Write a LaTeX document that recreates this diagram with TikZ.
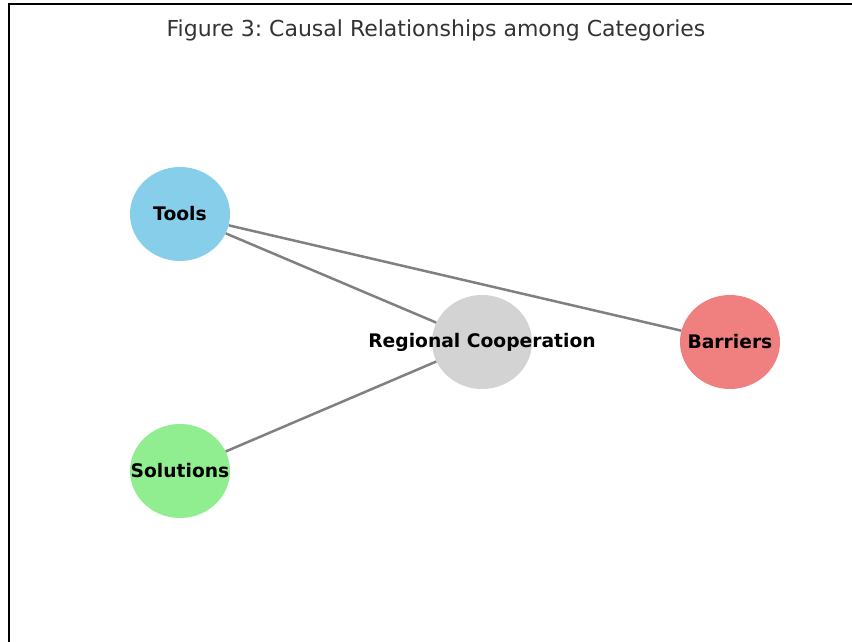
\documentclass[tikz,border=0pt]{standalone}
\usepackage{fontspec}
\setmainfont{DejaVu Sans}
\usetikzlibrary{shapes.geometric}
\frenchspacing
\definecolor{toolsblue}{HTML}{87CEEB}
\definecolor{coopgray}{HTML}{D3D3D3}
\definecolor{barrierred}{HTML}{F08080}
\definecolor{solgreen}{HTML}{90EE90}
\definecolor{edgegray}{HTML}{808080}
\definecolor{titlegray}{HTML}{333333}
\tikzstyle{category}=[ellipse, inner sep=0pt, minimum width=100pt, minimum height=94pt,
    label={[font=\fontsize{18.7}{21}\selectfont\bfseries]center:#1}]
\newcommand{\category}{\node}

\begin{document}
\begin{tikzpicture}[x=1pt, y=-1pt
    ,every edge/.style={draw, edgegray, line width=2.5pt}
]
\useasboundingbox (0,0) rectangle (852,642);
% frame
\draw[line width=2pt] (9,650) -- (9,4) -- (860,4);
\node[text=titlegray, font=\fontsize{22}{26}\selectfont\frenchspacing] (title) at (436,30) {Figure 3: Causal Relationships among Categories};
\category[category=Tools, fill=toolsblue]                (tools) at (180,214) {};
\category[category=Regional Cooperation, fill=coopgray]  (coop)  at (482,342) {};
\category[category=Barriers, fill=barrierred]            (barr)  at (730,342) {};
\category[category=Solutions, fill=solgreen]             (sol)   at (180,471) {};
\path
(tools) edge (coop)
        edge (barr)
(sol)   edge (coop)
;
\end{tikzpicture}
\end{document}
